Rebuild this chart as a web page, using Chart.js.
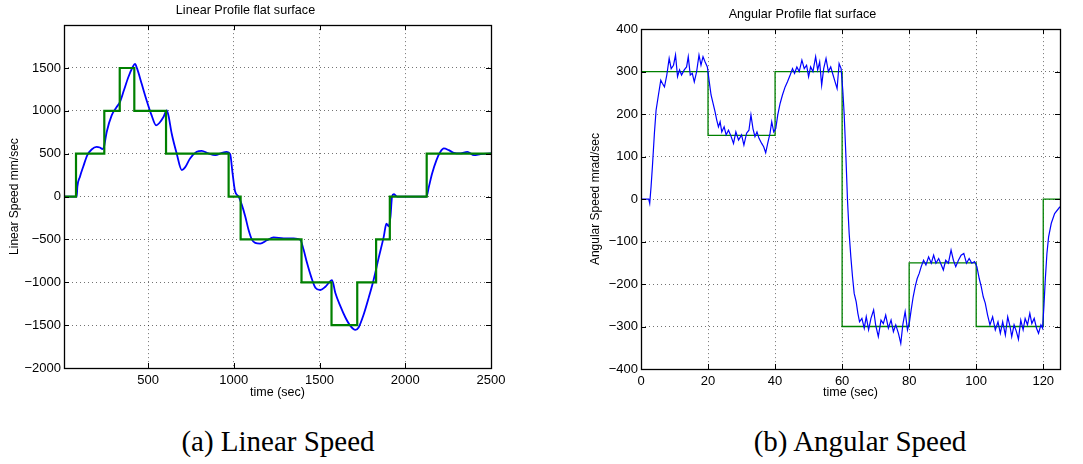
<!DOCTYPE html>
<html lang="en">
<head>
    <meta charset="UTF-8">
    <title>Linear / Angular Profile flat surface</title>
    <style>
        body { margin: 0; background: #fff; width: 1083px; height: 464px; position: relative; overflow: hidden; }
        .box { position: absolute; top: 0; }
        .caption { position: absolute; top: 425px; font-family: "Liberation Serif", "DejaVu Serif", serif; font-size: 29px; color: #000; white-space: nowrap; transform: translateX(-50%); }
    </style>
</head>
<body>
    <div class="box" style="left:0px"><canvas id="linearChart" width="540" height="400"></canvas></div>
    <div class="box" style="left:545px"><canvas id="angularChart" width="538" height="400"></canvas></div>
    <div class="caption" style="left:278px">(a) Linear Speed</div>
    <div class="caption" style="left:860px">(b) Angular Speed</div>

    <script src="https://cdn.jsdelivr.net/npm/chart.js"></script>
    <script>
        // measured response, linear speed (mm/sec)
        const linTime = [10, 84, 88, 103, 122, 146, 171, 200, 219, 235, 243, 259, 288, 317, 336, 359, 385, 410, 424, 437,
            463, 492, 521, 547, 566, 590, 609, 619, 638, 667, 697, 716, 745, 784, 813, 852, 892, 931, 959, 979,
            993, 1008, 1028, 1047, 1067, 1086, 1106, 1125, 1154, 1193, 1232, 1291, 1349, 1388, 1407, 1427, 1450, 1476, 1505, 1534,
            1563, 1573, 1592, 1621, 1651, 1680, 1709, 1728, 1758, 1787, 1816, 1845, 1875, 1890, 1904, 1914, 1923, 1933, 1953, 2124,
            2138, 2157, 2182, 2205, 2225, 2254, 2283, 2322, 2362, 2401, 2440, 2500];
        const linSpeed = [0, 0, 116, 232, 348, 483, 549, 580, 572, 553, 580, 754, 947, 1044, 1102, 1237, 1392, 1508, 1547, 1489,
            1315, 1121, 947, 831, 858, 928, 1005, 947, 735, 503, 309, 340, 445, 522, 534, 503, 483, 510, 522, 495,
            271, 58, 0, -97, -232, -387, -503, -541, -549, -510, -476, -487, -487, -503, -619, -773, -928, -1063, -1090, -1052,
            -986, -974, -1121, -1276, -1411, -1508, -1555, -1527, -1373, -1179, -967, -715, -464, -317, -348, -232, 0, 27, 0, 0,
            116, 271, 425, 522, 561, 541, 510, 503, 522, 483, 495, 503];

        // reference profile (steps), linear
        const linRefTime = [10, 80, 245, 335, 420, 605, 970, 1040, 1395, 1570, 1720, 1830, 1910, 2125, 2500];
        const linRefSpeed = [0, 500, 1000, 1500, 1000, 500, 0, -500, -1000, -1500, -1000, -500, 0, 500, 500];

        // measured response, angular speed (mrad/sec)
        const angTime = [0, 2.3, 2.6, 3.0, 3.4, 4.0, 4.5, 5.2, 5.9, 6.4, 7.0, 7.7, 8.4, 9.0, 9.7, 10.3, 10.9, 11.5, 12.1, 12.9,
            13.6, 14.1, 14.7, 15.3, 15.9, 16.6, 17.3, 17.9, 18.5, 19.1, 19.8, 20.3, 20.9, 21.5, 22.1, 22.6, 23.1, 23.6, 24.1, 24.8,
            25.4, 26.1, 26.9, 27.6, 28.3, 29.1, 30.0, 30.7, 31.5, 32.2, 32.8, 33.4, 34.0, 34.6, 35.2, 36.0, 36.6, 37.2, 37.8, 38.5,
            39.0, 39.6, 40.2, 40.8, 41.5, 42.2, 43.0, 43.7, 44.5, 45.2, 45.8, 46.5, 47.2, 48.0, 48.7, 49.4, 50.0, 50.6, 51.3, 52.1,
            52.7, 53.3, 53.9, 54.5, 55.2, 55.9, 56.6, 57.3, 57.9, 58.5, 59.1, 59.7, 60.2, 60.6, 61.1, 61.6, 62.1, 62.6, 63.1, 63.6,
            64.2, 64.7, 65.2, 65.9, 66.6, 67.2, 67.9, 68.6, 69.4, 70.0, 70.8, 71.6, 72.3, 73.0, 73.8, 74.6, 75.3, 76.0, 76.8, 77.5,
            78.1, 78.8, 79.5, 80.1, 80.6, 81.2, 81.8, 82.4, 83.0, 83.6, 84.3, 85.0, 85.8, 86.6, 87.3, 88.0, 88.8, 89.6, 90.2, 90.9,
            91.7, 92.5, 93.2, 93.9, 94.7, 95.5, 96.3, 97.1, 97.9, 98.7, 99.5, 100.2, 100.9, 101.5, 102.1, 102.7, 103.4, 104.1, 104.9, 105.7,
            106.5, 107.2, 107.9, 108.7, 109.4, 110.1, 110.6, 111.3, 112.0, 112.6, 113.3, 114.0, 114.6, 115.3, 116.0, 116.6, 117.3, 118.0, 118.6, 119.3,
            119.8, 120.2, 120.6, 121.1, 121.6, 122.4, 123.4, 125.0];
        const angSpeed = [0, 0, -10, 29, 76, 155, 209, 245, 280, 272, 264, 292, 331, 307, 315, 339, 288, 304, 292, 304,
            311, 335, 292, 296, 276, 300, 339, 315, 335, 323, 311, 280, 245, 225, 205, 186, 170, 182, 158, 170,
            151, 162, 147, 131, 158, 139, 151, 127, 155, 162, 198, 166, 147, 158, 143, 131, 123, 109, 131, 155,
            182, 158, 166, 198, 225, 245, 264, 276, 292, 307, 296, 311, 300, 327, 307, 315, 288, 311, 300, 335,
            304, 323, 268, 307, 331, 300, 311, 292, 276, 260, 319, 307, 256, 202, 107, -2, -81, -136, -183, -222,
            -242, -269, -289, -281, -304, -277, -308, -281, -261, -296, -324, -285, -293, -273, -304, -285, -312, -296, -316, -340,
            -296, -265, -308, -289, -261, -230, -206, -187, -175, -159, -144, -155, -136, -151, -132, -151, -140, -155, -167, -144,
            -151, -120, -144, -159, -144, -132, -128, -151, -140, -151, -147, -159, -187, -206, -230, -245, -273, -296, -277, -308,
            -289, -316, -289, -320, -277, -300, -324, -296, -312, -330, -285, -308, -281, -296, -269, -293, -281, -304, -316, -296,
            -304, -253, -191, -128, -89, -57, -34, -18];

        // reference profile (steps), angular
        const angRefTime = [0, 20, 40, 60, 80, 100, 120, 125];
        const angRefSpeed = [300, 150, 300, -300, -150, -300, 0, 0];

        // tick values shown on each axis
        const linXTicks = [500, 1000, 1500, 2000, 2500];
        const linYTicks = [-2000, -1500, -1000, -500, 0, 500, 1000, 1500];
        const angXTicks = [0, 20, 40, 60, 80, 100, 120];
        const angYTicks = [-400, -300, -200, -100, 0, 100, 200, 300, 400];

        const FONT = '"Liberation Sans", Arial, Helvetica, sans-serif';

        function toPoints(xs, ys) {
            return xs.map((x, i) => ({ x: x, y: ys[i] }));
        }

        function fmt(v) {
            return v < 0 ? '\u2212' + Math.abs(v) : String(v);
        }

        // matlab style frame: full box plus short inward ticks
        const framePlugin = {
            id: 'frame',
            afterDatasetsDraw(chart) {
                const ctx = chart.ctx;
                const a = chart.chartArea;
                const xs = chart.scales.x, ys = chart.scales.y;
                ctx.save();
                ctx.strokeStyle = '#000';
                ctx.lineWidth = 1;
                ctx.beginPath();
                xs.ticks.forEach(t => {
                    const px = Math.round(xs.getPixelForValue(t.value)) + 0.5;
                    ctx.moveTo(px, a.bottom); ctx.lineTo(px, a.bottom - 5);
                    ctx.moveTo(px, a.top); ctx.lineTo(px, a.top + 5);
                });
                ys.ticks.forEach(t => {
                    const py = Math.round(ys.getPixelForValue(t.value)) + 0.5;
                    ctx.moveTo(a.left, py); ctx.lineTo(a.left + 5, py);
                    ctx.moveTo(a.right, py); ctx.lineTo(a.right - 5, py);
                });
                ctx.stroke();
                ctx.lineWidth = 1.3;
                ctx.strokeRect(Math.round(a.left) + 0.5, Math.round(a.top) + 0.5,
                    Math.round(a.right - a.left), Math.round(a.bottom - a.top));
                ctx.restore();
            }
        };

        function makeChart(id, cfg) {
            const ctx = document.getElementById(id).getContext('2d');
            return new Chart(ctx, {
                type: 'line',
                data: { datasets: cfg.datasets },
                options: {
                    responsive: false,
                    animation: false,
                    devicePixelRatio: 1,
                    layout: { padding: cfg.padding },
                    plugins: {
                        legend: { display: false },
                        tooltip: { enabled: false },
                        title: {
                            display: true,
                            text: cfg.title,
                            color: '#000',
                            font: { family: FONT, size: 12.6, weight: 'normal' },
                            padding: cfg.titlePad
                        }
                    },
                    scales: {
                        x: {
                            type: 'linear',
                            min: cfg.xMin,
                            max: cfg.xMax,
                            afterBuildTicks: s => { s.ticks = cfg.xTicks.map(v => ({ value: v })); },
                            afterFit: s => { s.height = cfg.xHeight; },
                            ticks: {
                                color: '#000',
                                padding: 5,
                                maxRotation: 0,
                                autoSkip: false,
                                font: { family: FONT, size: 13 },
                                callback: v => fmt(v)
                            },
                            grid: { color: 'rgba(0,0,0,0.55)', drawTicks: false },
                            border: { display: false, dash: [1, 3] },
                            title: {
                                display: true,
                                text: 'time (sec)',
                                color: '#000',
                                font: { family: FONT, size: 12.5 },
                                padding: { top: 0, bottom: cfg.xTitleBottom }
                            }
                        },
                        y: {
                            type: 'linear',
                            min: cfg.yMin,
                            max: cfg.yMax,
                            afterBuildTicks: s => { s.ticks = cfg.yTicks.map(v => ({ value: v })); },
                            afterFit: s => { s.width = cfg.yWidth; },
                            ticks: {
                                color: '#000',
                                padding: 3,
                                autoSkip: false,
                                font: { family: FONT, size: 13 },
                                callback: v => fmt(v)
                            },
                            grid: { color: 'rgba(0,0,0,0.55)', drawTicks: false },
                            border: { display: false, dash: [1, 3] },
                            title: {
                                display: true,
                                text: cfg.yTitle,
                                color: '#000',
                                font: { family: FONT, size: 12 },
                                padding: { top: cfg.yTitleLeft, bottom: 0 }
                            }
                        }
                    }
                },
                plugins: [framePlugin]
            });
        }

        // (a) linear speed: green reference drawn over the blue response
        makeChart('linearChart', {
            title: 'Linear Profile flat surface',
            titlePad: { top: 3, bottom: 7 },
            padding: { top: 0, left: 0, right: 49, bottom: 0 },
            xMin: 10, xMax: 2500, yMin: -2000, yMax: 2000,
            xTicks: linXTicks, yTicks: linYTicks,
            xHeight: 32, yWidth: 64, xTitleBottom: 0, yTitleLeft: 7,
            yTitle: 'Linear Speed mm/sec',
            datasets: [
                {
                    data: toPoints(linRefTime, linRefSpeed),
                    borderColor: '#008000',
                    borderWidth: 2.2,
                    stepped: true,
                    pointRadius: 0,
                    fill: false,
                    order: 0
                },
                {
                    data: toPoints(linTime, linSpeed),
                    borderColor: '#0000ff',
                    borderWidth: 1.8,
                    cubicInterpolationMode: 'monotone',
                    pointRadius: 0,
                    fill: false,
                    order: 1
                }
            ]
        });

        // (b) angular speed
        makeChart('angularChart', {
            title: 'Angular Profile flat surface',
            titlePad: { top: 7, bottom: 7 },
            padding: { top: 0, left: 0, right: 23, bottom: 0 },
            xMin: 0, xMax: 125, yMin: -400, yMax: 400,
            xTicks: angXTicks, yTicks: angYTicks,
            xHeight: 31, yWidth: 96, xTitleBottom: 0, yTitleLeft: 43,
            yTitle: 'Angular Speed mrad/sec',
            datasets: [
                {
                    data: toPoints(angTime, angSpeed),
                    borderColor: '#0000ff',
                    borderWidth: 1.2,
                    pointRadius: 0,
                    fill: false,
                    order: 0
                },
                {
                    data: toPoints(angRefTime, angRefSpeed),
                    borderColor: '#008000',
                    borderWidth: 1.3,
                    stepped: true,
                    pointRadius: 0,
                    fill: false,
                    order: 1
                }
            ]
        });
    </script>
</body>
</html>
